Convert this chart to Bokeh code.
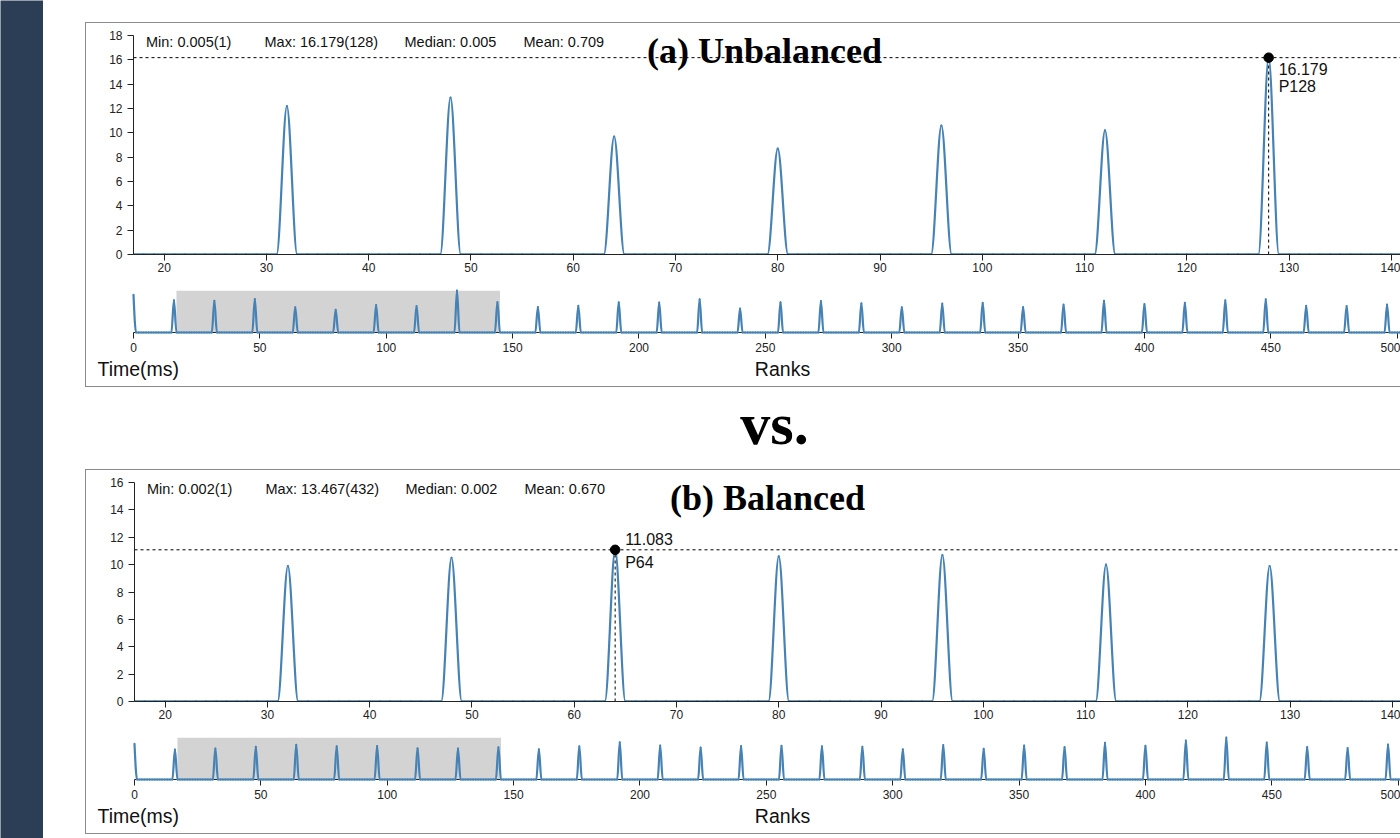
import numpy as np
from bokeh.plotting import figure
from bokeh.models import (Range1d, SingleIntervalTicker, Span, BoxAnnotation, Label,
                          ColumnDataSource, Spacer)
from bokeh.layouts import column, row
from bokeh.embed import file_html
from bokeh.resources import INLINE

# ---------------- data ----------------
N_RANKS = 512
PEAK_RANKS = list(range(0, 512, 16))
PEAKS_A = [14.5, 12.4, 12.2, 12.9, 9.7, 8.7, 10.6, 10.2, 16.179, 11.7,
           9.8, 10.3, 11.6, 11.5, 12.8, 9.2, 11.6, 12.1, 11.2, 9.7,
           11.1, 11.4, 9.8, 10.7, 12.2, 10.9, 11.4, 12.4, 12.8, 10.3,
           10.2, 10.7]
PEAKS_B = [11.4, 9.6, 9.9, 10.5, 11.083, 10.6, 10.7, 10.0, 9.9, 10.3,
           9.7, 10.6, 11.9, 10.9, 10.2, 10.7, 10.8, 10.6, 10.5, 9.7,
           11.0, 9.85, 10.85, 10.35, 11.75, 10.8, 12.45, 13.467, 11.8, 10.4,
           10.1, 11.2]
BASE_A = 0.005
BASE_B = 0.002
HOVER_A = 128
HOVER_B = 64
BRUSH = (17, 145)
Y_TOP_A = 18
Y_TOP_B = 16
STATS_A = ["Min: 0.005(1)", "Max: 16.179(128)", "Median: 0.005", "Mean: 0.709"]
STATS_B = ["Min: 0.002(1)", "Max: 13.467(432)", "Median: 0.002", "Mean: 0.670"]
TITLE_A = "(a) Unbalanced"
TITLE_B = "(b) Balanced"
X_LABEL = "Ranks"
Y_LABEL = "Time(ms)"
VS_TEXT = "vs."

# ---------------- styling / layout constants ----------------
LINE_COLOR = "#4682b4"
AXIS_COLOR = "#222222"
NAVY = "#2c3e55"
SANS = "Liberation Sans"
SERIF = "Liberation Serif"
PANEL_W = 1314
MAIN_FULL_W = 1309   # pixel width the brushed span occupies in the detail view
OVER_FULL_W = 1294   # pixel width all ranks occupy in the overview
STAT_X = [12.5, 131, 271, 390]


def make_series(base, peaks):
    x = np.arange(N_RANKS, dtype=float)
    y = np.full(N_RANKS, base, dtype=float)
    y[PEAK_RANKS] = peaks
    return x, y


def mono_bezier(x, y):
    """Cubic segments of a monotone-x curve through the data points."""
    n = len(x)
    h = np.diff(x)
    s = np.diff(y) / h
    t = np.zeros(n)
    for i in range(1, n - 1):
        h0, h1, s0, s1 = h[i - 1], h[i], s[i - 1], s[i]
        p = (s0 * h1 + s1 * h0) / (h0 + h1)
        t[i] = (np.sign(s0) + np.sign(s1)) * min(abs(s0), abs(s1), 0.5 * abs(p))
    t[0] = (3 * s[0] - t[1]) / 2
    t[-1] = (3 * s[-1] - t[-2]) / 2
    dx = h / 3
    return dict(x0=x[:-1], y0=y[:-1], x1=x[1:], y1=y[1:],
                cx0=x[:-1] + dx, cy0=y[:-1] + dx * t[:-1],
                cx1=x[1:] - dx, cy1=y[1:] - dx * t[1:])


def style_axis(ax, interval, standoff):
    ax.ticker = SingleIntervalTicker(interval=interval, num_minor_ticks=0)
    ax.axis_line_color = AXIS_COLOR
    ax.major_tick_line_color = AXIS_COLOR
    ax.major_tick_out = 6
    ax.major_tick_in = 0
    ax.minor_tick_out = 0
    ax.minor_tick_in = 0
    ax.major_label_text_font = SANS
    ax.major_label_text_font_size = "12px"
    ax.major_label_text_color = AXIS_COLOR
    ax.major_label_standoff = standoff


def bare_figure(w, h):
    f = figure(width=w, height=h, x_range=Range1d(0, w), y_range=Range1d(0, h),
               output_backend="svg", toolbar_location=None, min_border=0,
               x_axis_location=None, y_axis_location=None)
    f.xgrid.visible = False
    f.ygrid.visible = False
    f.outline_line_color = None
    return f


def build_panel(peaks, base, hover, y_top, stats, title, left,
                val_dy, p_dy, title_dx):
    x, y = make_series(base, peaks)
    src = ColumnDataSource(mono_bezier(x, y))
    frame_w = PANEL_W - left

    # ---- detail view ----
    main_end = BRUSH[0] + (BRUSH[1] - BRUSH[0]) * frame_w / MAIN_FULL_W
    p = figure(width=PANEL_W, height=12 + 219 + 28,
               x_range=Range1d(BRUSH[0], main_end), y_range=Range1d(0, y_top),
               output_backend="svg", toolbar_location=None,
               min_border_left=left, min_border_right=0,
               min_border_top=12, min_border_bottom=28)
    p.xgrid.visible = False
    p.ygrid.visible = False
    p.outline_line_color = None
    style_axis(p.xaxis[0], 10, 2)
    style_axis(p.yaxis[0], 2, 5)

    p.bezier(x0="x0", y0="y0", x1="x1", y1="y1", cx0="cx0", cy0="cy0",
             cx1="cx1", cy1="cy1", source=src, line_color=LINE_COLOR,
             line_width=2.2, line_cap="round")

    hv = float(y[hover])
    p.add_layout(Span(location=hv, dimension="width", line_color="black",
                      line_width=1, line_dash="3 3"))
    p.segment(x0=[hover], y0=[0], x1=[hover], y1=[hv], line_color="black",
              line_width=1, line_dash="3 3")
    p.scatter([hover], [hv], size=9.5, color="black", level="overlay")
    p.add_layout(Label(x=hover, y=hv, x_offset=10, y_offset=val_dy,
                       text=f"{hv:.3f}", text_font=SANS, text_font_size="16px",
                       text_baseline="middle", text_color="#111111"))
    p.add_layout(Label(x=hover, y=hv, x_offset=10, y_offset=p_dy,
                       text=f"P{hover}", text_font=SANS, text_font_size="16px",
                       text_baseline="middle", text_color="#111111"))

    for sx, s in zip(STAT_X, stats):
        p.add_layout(Label(x=BRUSH[0], y=y_top, x_offset=sx, y_offset=-6.5,
                           text=s, text_font=SANS, text_font_size="14.5px",
                           text_baseline="middle", text_color="#111111"))
    p.add_layout(Label(x=BRUSH[0], y=y_top, x_offset=title_dx, y_offset=-15,
                       text=title, text_font=SERIF, text_font_size="36px",
                       text_font_style="bold", text_align="center",
                       text_baseline="middle", text_color="black"))

    # ---- overview with brush ----
    over_end = N_RANKS * frame_w / OVER_FULL_W
    o = figure(width=PANEL_W, height=8 + 42 + 24,
               x_range=Range1d(0, over_end), y_range=Range1d(0, float(y.max())),
               output_backend="svg", toolbar_location=None,
               min_border_left=left, min_border_right=0,
               min_border_top=8, min_border_bottom=24,
               y_axis_location=None)
    o.xgrid.visible = False
    o.ygrid.visible = False
    o.outline_line_color = None
    style_axis(o.xaxis[0], 50, 4)
    o.add_layout(BoxAnnotation(left=BRUSH[0], right=BRUSH[1], fill_color="#d3d3d3",
                               fill_alpha=1.0, line_color=None, level="underlay"))
    o.bezier(x0="x0", y0="y0", x1="x1", y1="y1", cx0="cx0", cy0="cy0",
             cx1="cx1", cy1="cy1", source=src, line_color=LINE_COLOR,
             line_width=2.2, line_cap="round", level="overlay")

    # ---- axis captions ----
    lab = bare_figure(PANEL_W, 30)
    lab.add_layout(Label(x=11, y=18, text=Y_LABEL, text_font=SANS,
                         text_font_size="19.5px", text_baseline="middle",
                         text_color="#111111"))
    lab.add_layout(Label(x=696, y=18, text=X_LABEL, text_font=SANS,
                         text_font_size="19.5px", text_align="center",
                         text_baseline="middle", text_color="#111111"))

    border = "1px solid #8a8a8a"
    return column(p, o, row(lab), styles={"border-left": border, "border-top": border,
                                          "border-bottom": border})


panel_a = build_panel(PEAKS_A, BASE_A, HOVER_A, Y_TOP_A, STATS_A, TITLE_A,
                      left=47, val_dy=-11.5, p_dy=-29, title_dx=631)
panel_b = build_panel(PEAKS_B, BASE_B, HOVER_B, Y_TOP_B, STATS_B, TITLE_B,
                      left=48, val_dy=11, p_dy=-13, title_dx=633)

vs = bare_figure(PANEL_W, 82)
vs.add_layout(Label(x=689, y=46, text=VS_TEXT, text_font=SERIF, text_font_size="60px",
                    text_font_style="bold", text_align="center",
                    text_baseline="middle", text_color="black"))

strip = figure(width=43, height=838, output_backend="svg", toolbar_location=None,
               min_border=0, x_axis_location=None, y_axis_location=None,
               background_fill_color=NAVY, border_fill_color=NAVY)
strip.xgrid.visible = False
strip.ygrid.visible = False
strip.outline_line_color = None

right_col = column(Spacer(width=PANEL_W, height=22), panel_a, vs, panel_b)
layout = row(strip, Spacer(width=42, height=10), right_col)

open("out.html", "w").write(file_html(layout, INLINE))
